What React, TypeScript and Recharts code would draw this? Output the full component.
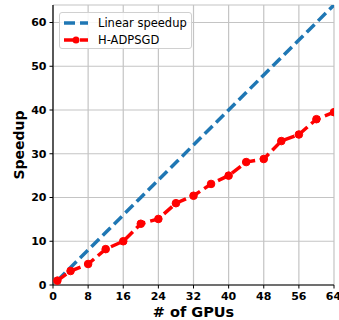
import { LineChart, Line, XAxis, YAxis, CartesianGrid } from "recharts";

const gpus = [1, 4, 8, 12, 16, 20, 24, 28, 32, 36, 40, 44, 48, 52, 56, 60, 64];
const linearSpeedup = [1, 4, 8, 12, 16, 20, 24, 28, 32, 36, 40, 44, 48, 52, 56, 60, 64];
const hAdpsgd = [1, 3.2, 4.8, 8.2, 10, 14, 15.1, 18.7, 20.4, 23.1, 25, 28.1, 28.8, 32.9, 34.4, 37.9, 39.5];
const xTicks = [0, 8, 16, 24, 32, 40, 48, 56, 64];
const yTicks = [0, 10, 20, 30, 40, 50, 60];

const BLUE = "#1f77b4";
const RED = "#ff0000";
const FONT = "DejaVu Sans";

const data = gpus.map((g, i) => ({ gpus: g, linear: linearSpeedup[i], hadpsgd: hAdpsgd[i] }));

const tickStyle = { fontFamily: FONT, fontWeight: "bold", fontSize: 11, fill: "#000" };

// legend drawn as an overlay so it doesn't eat chart space
function LegendBox() {
  const rows = [
    { name: "Linear speedup", color: BLUE, dot: false },
    { name: "H-ADPSGD", color: RED, dot: true },
  ];
  return (
    <div
      style={{
        position: "absolute",
        left: 59,
        top: 12,
        width: 133,
        height: 37,
        border: "1px solid #d0d0d0",
        borderRadius: 3,
        background: "rgba(255,255,255,0.85)",
        fontFamily: FONT,
        fontSize: 11.5,
        color: "#000",
        boxSizing: "border-box",
        paddingTop: 1,
      }}
    >
      {rows.map((r) => (
        <div key={r.name} style={{ display: "flex", alignItems: "center", height: 17 }}>
          <svg width={38} height={10} style={{ flex: "none" }}>
            <line x1={4} y1={5} x2={28} y2={5} stroke={r.color} strokeWidth={3.5} strokeDasharray="11 5" />
            {r.dot && <circle cx={16} cy={5} r={3.5} fill={r.color} />}
          </svg>
          <span>{r.name}</span>
        </div>
      ))}
    </div>
  );
}

export default function App() {
  return (
    <div style={{ position: "absolute", left: 0, top: 0, width: 339, height: 320, background: "#fff" }}>
      <LineChart width={339} height={320} data={data} margin={{ top: 5, right: 5, left: 0, bottom: 0 }}>
        <CartesianGrid stroke="#c4c4c4" strokeWidth={1.2} />
        <XAxis
          dataKey="gpus"
          type="number"
          domain={[0, 64]}
          ticks={xTicks}
          allowDataOverflow
          height={35}
          tick={tickStyle}
          tickSize={3.5}
          tickMargin={4}
          tickLine={{ stroke: "#000" }}
          axisLine={{ stroke: "#000", strokeWidth: 1.2 }}
          label={{
            content: (p: any) => (
              <text
                x={p.viewBox.x + p.viewBox.width / 2}
                y={317}
                textAnchor="middle"
                style={{ fontFamily: FONT, fontWeight: "bold", fontSize: 14.5, fill: "#000" }}
              >
                # of GPUs
              </text>
            ),
          }}
        />
        <XAxis xAxisId="top" orientation="top" type="number" domain={[0, 64]} height={0} tick={false} tickLine={false} axisLine={{ stroke: "#000", strokeWidth: 1.2 }} />
        <YAxis
          type="number"
          domain={[0, 64]}
          ticks={yTicks}
          allowDataOverflow
          width={53}
          tick={tickStyle}
          tickSize={3.5}
          tickMargin={3}
          tickLine={{ stroke: "#000" }}
          axisLine={{ stroke: "#000", strokeWidth: 1.2 }}
          label={{
            content: (p: any) => {
              const cy = p.viewBox.y + p.viewBox.height / 2;
              return (
                <text
                  x={24}
                  y={cy}
                  textAnchor="middle"
                  transform={`rotate(-90 24 ${cy})`}
                  style={{ fontFamily: FONT, fontWeight: "bold", fontSize: 14, fill: "#000" }}
                >
                  Speedup
                </text>
              );
            },
          }}
        />
        <YAxis yAxisId="right" orientation="right" type="number" domain={[0, 64]} width={0} tick={false} tickLine={false} axisLine={{ stroke: "#000", strokeWidth: 1.2 }} />
        <Line
          dataKey="linear"
          name="Linear speedup"
          type="linear"
          stroke={BLUE}
          strokeWidth={3.5}
          strokeDasharray="11 5"
          dot={false}
          isAnimationActive={false}
        />
        <Line
          dataKey="hadpsgd"
          name="H-ADPSGD"
          type="linear"
          stroke={RED}
          strokeWidth={3.5}
          strokeDasharray="11 5"
          dot={{ r: 3.8, fill: RED, stroke: RED, strokeWidth: 1, strokeDasharray: "" }}
          isAnimationActive={false}
        />
      </LineChart>
      <LegendBox />
    </div>
  );
}
